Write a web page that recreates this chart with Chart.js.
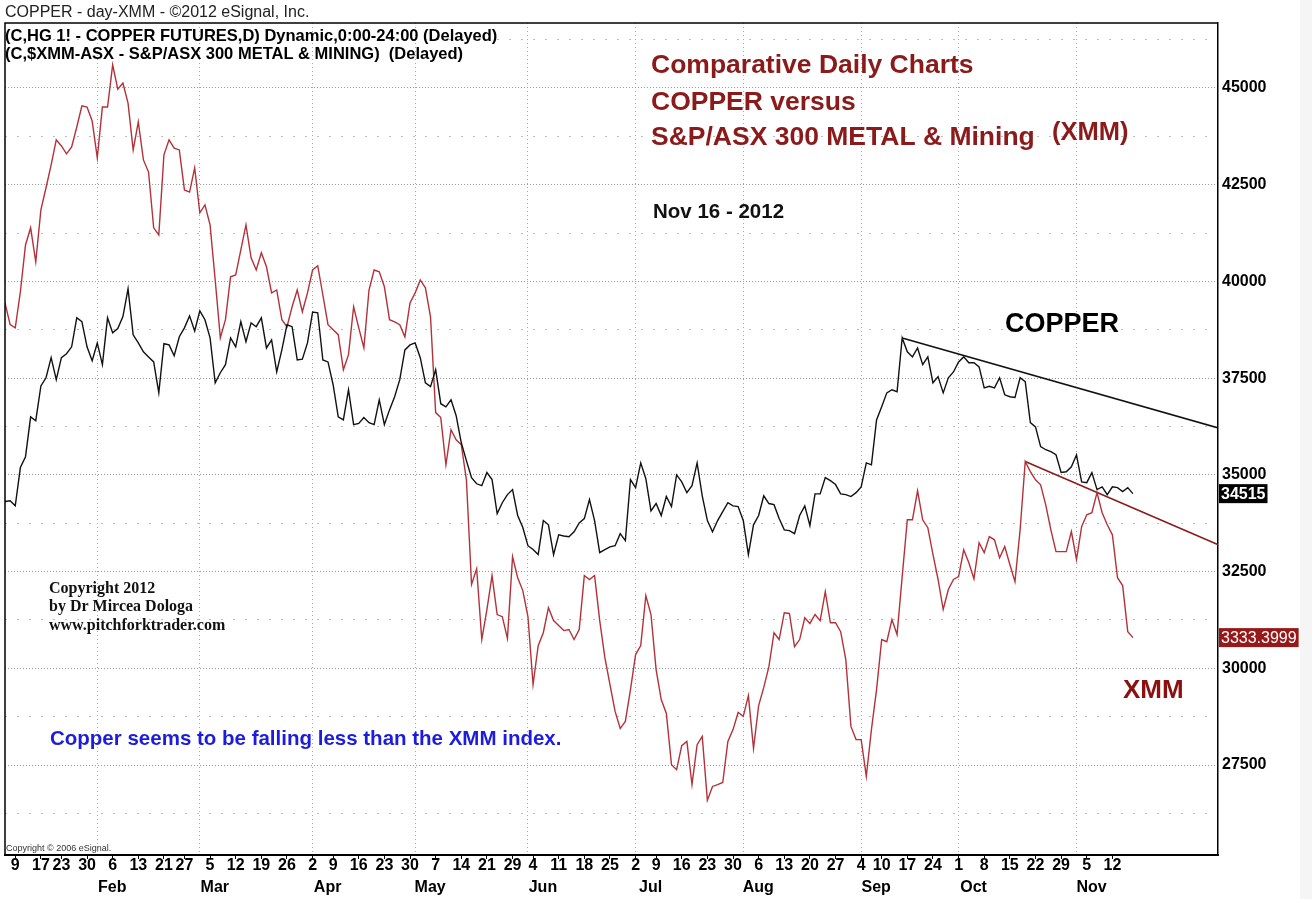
<!DOCTYPE html>
<html lang="en">
<head>
<meta charset="UTF-8">
<title>Copper vs XMM</title>
<script src="https://cdn.jsdelivr.net/npm/chart.js"></script>
<style>
  html, body { margin: 0; padding: 0; background: #fff; }
  #wrap { position: relative; width: 1312px; height: 899px; }
</style>
</head>
<body>
<div id="wrap"><canvas id="chart"></canvas></div>

<script>
// trading calendar (US exchange days, 2012)
var firstDay = '2012-01-05'
var lastDay = '2012-12-12'
var holidays = ['2012-01-16', '2012-02-20', '2012-04-06', '2012-05-28', '2012-07-04', '2012-09-03', '2012-11-22']

// first trading day of each week, as printed on the time axis
var weekTicks = [
    '2012-01-09', '2012-01-17', '2012-01-23', '2012-01-30',
    '2012-02-06', '2012-02-13', '2012-02-21', '2012-02-27',
    '2012-03-05', '2012-03-12', '2012-03-19', '2012-03-26',
    '2012-04-02', '2012-04-09', '2012-04-16', '2012-04-23', '2012-04-30',
    '2012-05-07', '2012-05-14', '2012-05-21', '2012-05-29',
    '2012-06-04', '2012-06-11', '2012-06-18', '2012-06-25',
    '2012-07-02', '2012-07-09', '2012-07-16', '2012-07-23', '2012-07-30',
    '2012-08-06', '2012-08-13', '2012-08-20', '2012-08-27',
    '2012-09-04', '2012-09-10', '2012-09-17', '2012-09-24',
    '2012-10-01', '2012-10-08', '2012-10-15', '2012-10-22', '2012-10-29',
    '2012-11-05', '2012-11-12'
]
var monthNames = ['Feb', 'Mar', 'Apr', 'May', 'Jun', 'Jul', 'Aug', 'Sep', 'Oct', 'Nov']

// daily closes Jan 5 - Nov 16 2012
// HG 1! copper, cents x 100 (right axis units)
var copper = [
    34310, 34330, 34200, 35190, 35470, 36500, 36400, 37300, 37510, 38030,
    37460, 38030, 38130, 38310, 39060, 38960, 38310, 37950, 38410, 37850,
    39060, 38670, 38780, 39090, 39810, 38620, 38410, 38180, 38050, 37920,
    37120, 38390, 38360, 38080, 38570, 38800, 39110, 38720, 39240, 39010,
    38540, 37380, 37640, 37850, 38540, 38310, 38960, 38440, 38930, 38830,
    39060, 38280, 38490, 37660, 38230, 38880, 38830, 37970, 37990, 38410,
    39210, 39190, 37970, 37920, 37330, 36500, 36420, 37200, 36300, 36330,
    36480, 36350, 36300, 36940, 36300, 36680, 37020, 37460, 38230, 38360,
    38410, 38030, 37380, 37280, 37720, 36840, 36760, 36940, 36530, 35830,
    35370, 34930, 34770, 34720, 35060, 34880, 34000, 34280, 34490, 34620,
    33950, 33640, 33170, 33070, 32940, 33820, 33710, 32940, 33450, 33420,
    33400, 33530, 33760, 33870, 34360, 33820, 32990, 33070, 33140, 33170,
    33480, 33300, 34880, 34670, 35310, 34900, 34070, 34260, 33950, 34440,
    34180, 35000, 34820, 34540, 34720, 35310, 34460, 33820, 33530, 33820,
    34050, 34280, 34200, 34180, 33820, 32940, 33710, 33950, 34460, 34260,
    34230, 33870, 33580, 33560, 33480, 33950, 34200, 33690, 34510, 34510,
    34930, 34850, 34750, 34510, 34490, 34440, 34540, 34690, 35310, 35260,
    36420, 36760, 37120, 37200, 37150, 38540, 38180, 38050, 38280, 37850,
    38050, 37380, 37540, 37120, 37510, 37660, 37920, 38050, 37900, 37900,
    37790, 37250, 37290, 37250, 37510, 37070, 37020, 37000, 37510, 37410,
    36350, 36240, 35730, 35650, 35600, 35520, 35060, 35080, 35210, 35520,
    34820, 34800, 35060, 34620, 34690, 34490, 34690, 34670, 34570, 34670, 34515
]
// $XMM-ASX, index points
var xmm = [
    4270, 4209, 4200, 4301, 4432, 4480, 4385, 4530, 4592, 4656,
    4726, 4709, 4687, 4706, 4762, 4821, 4818, 4779, 4676, 4818,
    4818, 4936, 4868, 4885, 4829, 4698, 4776, 4670, 4636, 4480,
    4460, 4684, 4726, 4703, 4698, 4586, 4580, 4648, 4522, 4544,
    4488, 4334, 4172, 4223, 4343, 4348, 4418, 4488, 4396, 4362,
    4410, 4371, 4298, 4306, 4223, 4203, 4259, 4306, 4245, 4298,
    4362, 4374, 4292, 4209, 4195, 4181, 4083, 4125, 4259, 4200,
    4144, 4306, 4362, 4357, 4315, 4223, 4217, 4209, 4175, 4270,
    4298, 4334, 4312, 4231, 3963, 3949, 3817, 3915, 3887, 3873,
    3775, 3482, 3526, 3328, 3412, 3507, 3398, 3392, 3331, 3560,
    3501, 3465, 3392, 3202, 3311, 3347, 3417, 3381, 3367, 3353,
    3356, 3328, 3356, 3507, 3496, 3507, 3381, 3278, 3202, 3127,
    3079, 3099, 3188, 3286, 3311, 3451, 3398, 3244, 3160, 3121,
    2978, 2964, 3031, 3043, 2922, 3034, 3057, 2878, 2917, 2922,
    2928, 3043, 3076, 3124, 3113, 3171, 3023, 3143, 3194, 3252,
    3347, 3328, 3403, 3401, 3308, 3328, 3389, 3373, 3398, 3381,
    3462, 3375, 3375, 3350, 3272, 3085, 3048, 3048, 2945, 3076,
    3188, 3328, 3322, 3384, 3342, 3504, 3663, 3663, 3744, 3663,
    3641, 3566, 3496, 3412, 3468, 3496, 3504, 3579, 3543, 3498,
    3599, 3571, 3616, 3607, 3557, 3588, 3538, 3490, 3635, 3826,
    3798, 3775, 3761, 3705, 3635, 3574, 3574, 3574, 3630, 3552,
    3644, 3677, 3683, 3739, 3683, 3649, 3621, 3501, 3479, 3350, 3333.3999
]

// drawn trend lines [date, value]
var copperTrend = [['2012-09-14', 38540], ['2012-12-12', 36200]]
var xmmTrend = [['2012-10-18', 3826], ['2012-12-12', 3591]]

var yTicks = [27500, 30000, 32500, 35000, 37500, 40000, 42500, 45000]
var yMinorTicks = [26250, 28750, 31250, 33750, 36250, 38750, 41250, 43750, 46250]
var yMin = 25175
var yMax = 46680
var xmmScale = 9.238   // comparison overlay: copper units per XMM point
var xMax = 236.6

var FONT = "'Liberation Sans', Arial, sans-serif"

function buildCalendar() {
    var days = []
    var d = new Date(firstDay + 'T00:00:00Z')
    var end = new Date(lastDay + 'T00:00:00Z')
    while (d <= end) {
        var iso = d.toISOString().slice(0, 10)
        var wd = d.getUTCDay()
        if (wd !== 0 && wd !== 6 && holidays.indexOf(iso) < 0) days.push(iso)
        d.setUTCDate(d.getUTCDate() + 1)
    }
    return days
}
var calendar = buildCalendar()
var dayIndex = {}
calendar.forEach(function (iso, i) { dayIndex[iso] = i })

var monthStarts = monthNames.map(function (m, k) {
    var mm = ('0' + (k + 2)).slice(-2)
    for (var i = 0; i < calendar.length; i++) {
        if (calendar[i].slice(5, 7) === mm) return i
    }
})

function toPoints(values) {
    return values.map(function (v, i) { return {x: i, y: v} })
}
function trendPoints(t) {
    return t.map(function (p) { return {x: dayIndex[p[0]], y: p[1]} })
}

function put(c, str, x, y, font, color) {
    c.font = font
    c.fillStyle = color
    c.textAlign = 'left'
    c.textBaseline = 'alphabetic'
    c.fillText(str, x, y)
}

function tag(c, str, x, y, bg, font) {
    c.font = font
    var w = c.measureText(str).width
    c.fillStyle = bg
    c.fillRect(x, y - 9.5, w + 4, 19)
    c.fillStyle = '#fff'
    c.textAlign = 'left'
    c.textBaseline = 'middle'
    c.fillText(str, x + 2, y + 1)
}

var notes = {
    id: 'notes',
    beforeDraw: function (chart) {
        var c = chart.ctx
        c.save()
        c.fillStyle = '#fff'
        c.fillRect(0, 0, chart.width, chart.height)
        c.fillStyle = '#f5f5f5'
        c.fillRect(1300, 0, chart.width - 1300, chart.height)
        c.restore()
    },
    afterDraw: function (chart) {
        var c = chart.ctx
        var a = chart.chartArea
        c.save()

        // frame: top and left
        c.strokeStyle = '#000'
        c.lineWidth = 1.5
        c.beginPath()
        c.moveTo(a.left, a.bottom)
        c.lineTo(a.left, a.top)
        c.lineTo(a.right, a.top)
        c.stroke()

        put(c, 'COPPER - day-XMM - \u00a92012 eSignal, Inc.', 5, 17, '16px ' + FONT, '#222')
        put(c, '(C,HG 1! - COPPER FUTURES,D) Dynamic,0:00-24:00 (Delayed)', 5, 41, 'bold 16.5px ' + FONT, '#000')
        put(c, '(C,$XMM-ASX - S&P/ASX 300 METAL & MINING)  (Delayed)', 5, 59, 'bold 16.5px ' + FONT, '#000')

        var red = '#8b1a1a'
        put(c, 'Comparative Daily Charts', 651, 73, 'bold 26.5px ' + FONT, red)
        put(c, 'COPPER versus', 651, 110, 'bold 26.5px ' + FONT, red)
        put(c, 'S&P/ASX 300 METAL & Mining', 651, 145, 'bold 26.5px ' + FONT, red)
        put(c, '(XMM)', 1052, 140, 'bold 25.5px ' + FONT, red)
        put(c, 'Nov 16 - 2012', 653, 218, 'bold 20.5px ' + FONT, '#111')

        put(c, 'COPPER', 1005, 332, 'bold 27px ' + FONT, '#000')
        put(c, 'XMM', 1123, 698, 'bold 26px ' + FONT, '#8b1010')

        var serif = "'Liberation Serif', 'Times New Roman', serif"
        put(c, 'Copyright 2012', 49, 593, 'bold 16px ' + serif, '#111')
        put(c, 'by Dr Mircea Dologa', 49, 611, 'bold 16px ' + serif, '#111')
        put(c, 'www.pitchforktrader.com', 49, 630, 'bold 16px ' + serif, '#111')

        put(c, 'Copper seems to be falling less than the XMM index.', 50, 745, 'bold 20.5px ' + FONT, '#1c1ce0')
        put(c, 'Copyright \u00a9 2006 eSignal.', 6, 851, '9px ' + FONT, '#333')

        // last value tags on the price axis
        var yC = chart.scales.y.getPixelForValue(copper[copper.length - 1])
        var yX = chart.scales.yXmm.getPixelForValue(xmm[xmm.length - 1])
        tag(c, String(copper[copper.length - 1]), a.right + 1, yC, '#000', 'bold 16px ' + FONT)
        tag(c, String(xmm[xmm.length - 1]), a.right + 1, yX, '#971818', '16px ' + FONT)

        c.restore()
    }
}

var tickFont = {family: FONT, size: 16, weight: 'bold', lineHeight: 1.2}

var canvas = document.getElementById('chart')
var chart = new Chart(canvas, {
    type: 'line',
    data: {
        datasets: [
            {label: 'COPPER', data: toPoints(copper), borderColor: '#111', borderWidth: 1.4, yAxisID: 'y'},
            {label: 'XMM', data: toPoints(xmm), borderColor: '#b3323a', borderWidth: 1.4, yAxisID: 'yXmm'},
            {label: 'copper trend', data: trendPoints(copperTrend), borderColor: '#111', borderWidth: 1.5, yAxisID: 'y'},
            {label: 'xmm trend', data: trendPoints(xmmTrend), borderColor: '#8b1a1a', borderWidth: 1.5, yAxisID: 'yXmm'}
        ]
    },
    options: {
        responsive: true,
        maintainAspectRatio: false,
        animation: false,
        layout: {padding: {top: 23, left: 5, right: 0, bottom: 0}},
        elements: {point: {radius: 0}, line: {tension: 0}},
        plugins: {legend: {display: false}, tooltip: {enabled: false}},
        scales: {
            x: {
                type: 'linear', position: 'bottom', min: 0, max: xMax, weight: 0,
                afterBuildTicks: function (s) { s.ticks = weekTicks.map(function (d) { return {value: dayIndex[d]} }) },
                afterFit: function (s) { s.height = 21 },
                ticks: {
                    autoSkip: false, maxRotation: 0, padding: -3, color: '#000', font: tickFont,
                    callback: function (v) { return String(Number(calendar[v].slice(8))) }
                },
                grid: {drawOnChartArea: false, drawTicks: true, tickLength: 4, color: '#000', tickColor: '#000'},
                border: {display: true, color: '#000', width: 2}
            },
            xMonth: {
                type: 'linear', position: 'bottom', min: 0, max: xMax, weight: 1,
                afterBuildTicks: function (s) { s.ticks = monthStarts.map(function (i) { return {value: i} }) },
                afterFit: function (s) { s.height = 23 },
                ticks: {
                    autoSkip: false, maxRotation: 0, padding: 2, labelOffset: 15, color: '#000', font: tickFont,
                    callback: function (v, i) { return monthNames[i] }
                },
                grid: {drawOnChartArea: true, drawTicks: false, color: '#a8a8a8', lineWidth: 1},
                border: {display: false, dash: [1, 3]}
            },
            y: {
                type: 'linear', position: 'right', min: yMin, max: yMax, weight: 0,
                afterBuildTicks: function (s) { s.ticks = yTicks.map(function (v) { return {value: v} }) },
                afterFit: function (s) { s.width = 94 },
                ticks: {padding: 4, color: '#000', font: tickFont, callback: function (v) { return String(v) }},
                grid: {drawTicks: false, color: '#9a9a9a', lineWidth: 1},
                border: {display: true, color: '#000', width: 1.5, dash: [1, 2]}
            },
            yMinor: {
                type: 'linear', position: 'right', min: yMin, max: yMax, weight: 1,
                afterBuildTicks: function (s) { s.ticks = yMinorTicks.map(function (v) { return {value: v} }) },
                afterFit: function (s) { s.width = 0 },
                ticks: {display: false},
                grid: {drawTicks: false, color: '#bdbdbd', lineWidth: 1},
                border: {display: false, dash: [2, 10]}
            },
            yXmm: {type: 'linear', display: false, min: yMin / xmmScale, max: yMax / xmmScale}
        }
    },
    plugins: [notes]
})
</script>
</body>
</html>
